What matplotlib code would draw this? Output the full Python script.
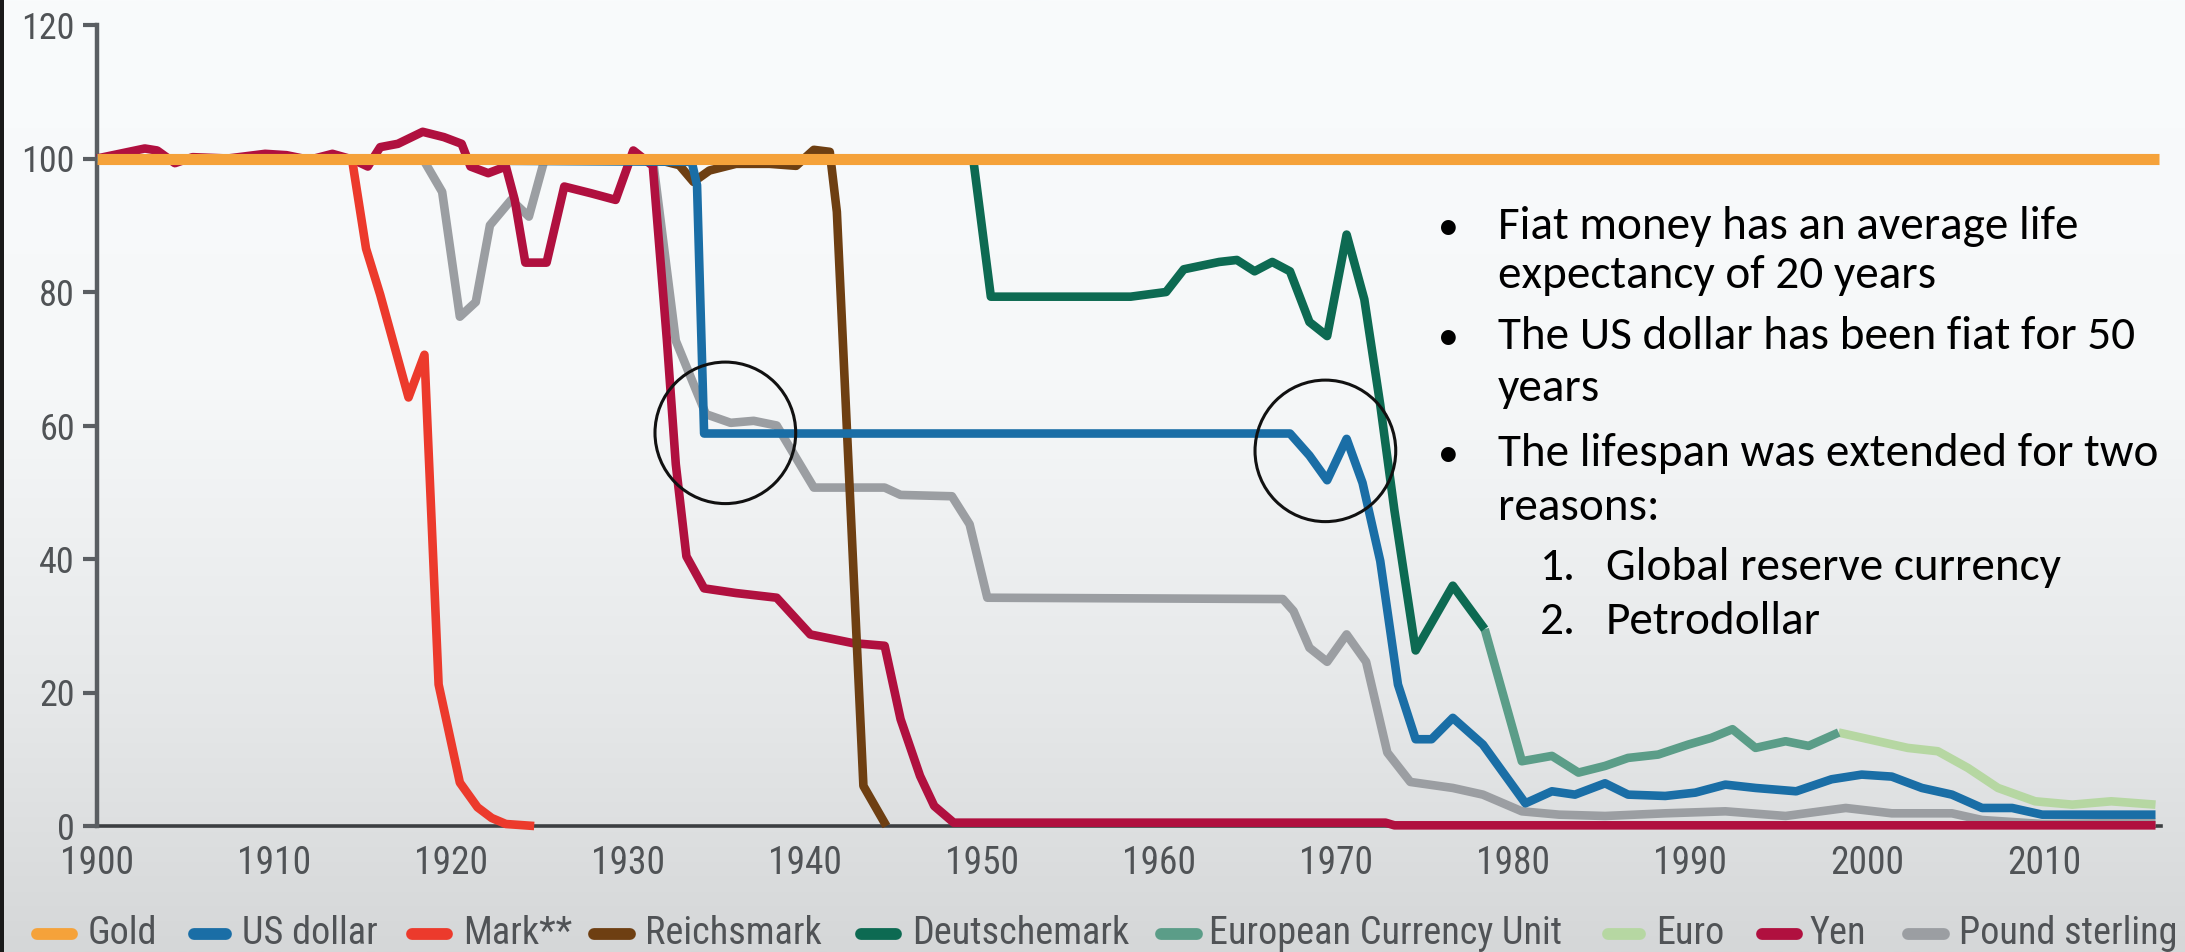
import numpy as np
import matplotlib
matplotlib.use("Agg")
import matplotlib.pyplot as plt
from matplotlib import font_manager
from matplotlib.patches import Ellipse, Rectangle
from matplotlib.lines import Line2D

# ---------------------------------------------------------------- data
gold_years = [1900, 2016.5]
gold_vals = [100, 100]

usd_years = [1900, 1933.6, 1933.9, 1934.3, 1967.4, 1968.5, 1969.5, 1970.6, 1971.5,
             1972.5, 1973.5, 1974.5, 1975.4, 1976.6, 1978.3, 1980.7, 1982.2, 1983.5,
             1985.2, 1986.5, 1988.6, 1990.3, 1992.0, 1993.7, 1996.0, 1998.0, 1999.7,
             2001.4, 2003.1, 2004.8, 2006.5, 2008.2, 2009.9, 2012.0, 2016.3]
usd_vals = [100, 99.5, 96, 58.8, 58.8, 55.5, 51.8, 58.0, 51.4,
            39.7, 21.2, 13.0, 13.0, 16.2, 12.2, 3.4, 5.2, 4.7,
            6.4, 4.7, 4.5, 5.0, 6.2, 5.7, 5.2, 7.0, 7.7,
            7.4, 5.7, 4.7, 2.7, 2.7, 1.7, 1.7, 1.7]

mark_years = [1900, 1914.4, 1915.2, 1916.0, 1917.6, 1918.5, 1919.3, 1920.5, 1921.5,
              1922.3, 1923.1, 1924.7]
mark_vals = [100, 100, 86.5, 79.6, 64.2, 70.6, 21.2, 6.5, 2.8, 1.2, 0.3, 0]

reichsmark_years = [1924, 1931.4, 1932.9, 1933.7, 1934.6, 1936.1, 1938.0, 1939.5,
                    1940.5, 1941.4, 1941.8, 1943.3, 1944.6]
reichsmark_vals = [100, 100, 99, 96.5, 98.2, 99.2, 99.2, 98.9, 101.3, 101, 92, 6.0, 0]

dm_years = [1949.5, 1950.5, 1958.4, 1960.4, 1961.4, 1963.4, 1964.4, 1965.4, 1966.4,
            1967.4, 1968.5, 1969.5, 1970.6, 1971.6, 1972.5, 1973.3, 1974.5, 1976.6,
            1978.4]
dm_vals = [100, 79.3, 79.3, 80, 83.4, 84.5, 84.8, 83.1, 84.5,
           83.1, 75.5, 73.4, 88.6, 78.9, 63.1, 47.3, 26.3, 36.0, 29.5]

ecu_years = [1978.4, 1980.5, 1982.2, 1983.7, 1985.2, 1986.5, 1988.2, 1989.9, 1991.2,
             1992.4, 1993.7, 1995.4, 1996.7, 1998.4]
ecu_vals = [29.5, 9.7, 10.5, 8.0, 9.0, 10.2, 10.7, 12.2, 13.2, 14.5, 11.7, 12.7, 12.0, 14.0]

euro_years = [1998.4, 2000.6, 2002.3, 2004.0, 2005.7, 2007.4, 2009.5, 2011.6, 2013.8, 2016.3]
euro_vals = [14.0, 12.7, 11.7, 11.2, 8.7, 5.7, 3.7, 3.2, 3.7, 3.2]

yen_years = [1900, 1902.7, 1903.4, 1904.4, 1905.4, 1907.4, 1909.5, 1910.7, 1912.0,
             1913.3, 1914.5, 1915.3, 1916.0, 1917.0, 1918.4, 1919.6, 1920.6, 1921.1,
             1922.1, 1923.1, 1923.6, 1924.2, 1925.4, 1926.4, 1927.9, 1929.3, 1930.3,
             1931.4, 1932.2, 1932.7, 1933.3, 1934.3, 1936.1, 1938.4, 1940.3, 1942.7,
             1944.5, 1945.4, 1946.5, 1947.3, 1948.4, 1972.8, 1973.3, 2016.3]
yen_vals = [100, 101.5, 101.2, 99.3, 100.2, 100, 100.7, 100.5, 99.8,
            100.7, 99.8, 98.8, 101.7, 102.2, 104, 103.2, 102.2, 98.8,
            97.8, 98.8, 93.8, 84.4, 84.4, 95.8, 94.8, 93.8, 101.2,
            98.9, 72.7, 54.2, 40.4, 35.6, 34.9, 34.2, 28.7, 27.4,
            27.0, 16.0, 7.5, 3.0, 0.5, 0.5, 0.1, 0.1]

gbp_years = [1900, 1918.4, 1919.5, 1920.5, 1921.4, 1922.2, 1923.4, 1924.4, 1925.3,
             1931.4, 1932.7, 1934.4, 1935.8, 1937.1, 1938.4, 1940.5, 1944.5, 1945.4,
             1948.3, 1949.3, 1950.3, 1967.0, 1967.6, 1968.5, 1969.5, 1970.6, 1971.7,
             1972.9, 1974.2, 1976.6, 1978.3, 1980.5, 1982.6, 1985.2, 1988.6, 1992.0,
             1995.4, 1998.8, 2001.4, 2004.8, 2006.5, 2009.9, 2016.3]
gbp_vals = [100, 100, 95.0, 76.3, 78.5, 90, 93.8, 91.3, 100,
            100, 72.7, 61.7, 60.4, 60.7, 60, 50.7, 50.7, 49.6,
            49.4, 45.2, 34.2, 34, 32.2, 26.7, 24.6, 28.7, 24.6,
            11.0, 6.6, 5.7, 4.7, 2.2, 1.7, 1.5, 1.9, 2.2,
            1.5, 2.7, 1.9, 1.9, 0.9, 0.3, 0.5]

series_labels = ["Gold", "US dollar", "Mark**", "Reichsmark", "Deutschemark",
                 "European Currency Unit", "Euro", "Yen", "Pound sterling"]
series_colors = ["#f5a23a", "#1a6ea6", "#ec3a2c", "#6e3f12", "#0d6a52",
                 "#5b9d88", "#b6d7a2", "#b0103f", "#9b9ea2"]

x_ticks = [1900, 1910, 1920, 1930, 1940, 1950, 1960, 1970, 1980, 1990, 2000, 2010]
y_ticks = [0, 20, 40, 60, 80, 100, 120]

notes = [
    ("bullet", "Fiat money has an average life"),
    ("cont", "expectancy of 20 years"),
    ("bullet", "The US dollar has been fiat for 50"),
    ("cont", "years"),
    ("bullet", "The lifespan was extended for two"),
    ("cont", "reasons:"),
    ("num1", "Global reserve currency"),
    ("num2", "Petrodollar"),
]

# ---------------------------------------------------------------- fonts
installed = {f.name for f in font_manager.fontManager.ttflist}


def pick(cands, fallback="DejaVu Sans"):
    for c in cands:
        if c in installed:
            return c
    return fallback


axis_font = pick(["Liberation Sans Narrow", "Roboto Condensed", "DejaVu Sans Condensed",
                  "Liberation Sans"])
note_font = pick(["Carlito", "Lato", "Open Sans"])

# ---------------------------------------------------------------- figure
W, H = 2185, 952
fig = plt.figure(figsize=(W / 100, H / 100), dpi=100)

# soft vertical background gradient
bg = fig.add_axes([0, 0, 1, 1], zorder=-10)
t = np.linspace(0, 1, 400)
stops_t = [0.0, 0.40, 0.75, 1.0]
r = np.interp(t, stops_t, [249, 246, 229, 213])
g = np.interp(t, stops_t, [251, 248, 231, 215])
b = np.interp(t, stops_t, [252, 249, 232, 216])
grad = np.stack([r, g, b], axis=1)[:, None, :] / 255.0
bg.imshow(grad, aspect="auto", extent=[0, 1, 0, 1])
bg.axis("off")
fig.add_artist(Rectangle((0, 0), 4 / W, 1, transform=fig.transFigure,
                         facecolor="#1a1a1a", edgecolor="none"))


def px(x):
    return x / W


def py(y):
    return 1 - y / H


x_left, x_right = 1900, 2016.6
ax_l = px(97)
ax_w = px((x_right - x_left) * 17.7)
ax_b = py(826)
ax_h = py(25) - py(826)
ax = fig.add_axes([ax_l, ax_b, ax_w, ax_h])
ax.set_facecolor("none")
ax.set_xlim(x_left, x_right)
ax.set_ylim(0, 120)

lw = 6.2
order = [8, 7, 6, 5, 4, 3, 2, 1, 0]
data = [(gold_years, gold_vals), (usd_years, usd_vals), (mark_years, mark_vals),
        (reichsmark_years, reichsmark_vals), (dm_years, dm_vals),
        (ecu_years, ecu_vals), (euro_years, euro_vals), (yen_years, yen_vals),
        (gbp_years, gbp_vals)]
for z, i in enumerate(order):
    xs, ys = data[i]
    ax.plot(xs, ys, color=series_colors[i], lw=8.0 if i == 0 else lw,
            solid_joinstyle="round", solid_capstyle="butt", zorder=3 + z,
            clip_on=False)

# highlight circles
for cx, cy in [(1935.5, 58.9), (1969.4, 56.2)]:
    ax.add_patch(Ellipse((cx, cy), 7.95, 21.2, fill=False, edgecolor="#111111",
                         lw=2.2, zorder=20))

for side in ["top", "right"]:
    ax.spines[side].set_visible(False)
ax.spines["left"].set_color("#5a5e62")
ax.spines["left"].set_linewidth(3.2)
ax.spines["bottom"].set_color("#3c3f42")
ax.spines["bottom"].set_linewidth(2.6)
ax.spines["bottom"].set_zorder(2)

ax.set_yticks(y_ticks)
ax.set_yticklabels([str(v) for v in y_ticks])
ax.set_xticks(x_ticks)
ax.set_xticklabels([str(v) for v in x_ticks])
ax.tick_params(axis="y", length=10, width=3.0, color="#5a5e62", pad=6,
               labelsize=26, labelcolor="#505356", direction="out")
ax.tick_params(axis="x", length=0, pad=14, labelsize=27, labelcolor="#505356")
for lab in ax.get_xticklabels() + ax.get_yticklabels():
    lab.set_fontfamily(axis_font)
# nudge the bottom y label up a touch so it clears the first year label
ax.get_yticklabels()[0].set_verticalalignment("center_baseline")

# legend row
leg_y = py(934)
mark_x = [(32, 77), (189, 231), (407, 452), (589, 635), (856, 901),
          (1156, 1202), (1603, 1645), (1757, 1802), (1903, 1949)]
text_x = [88, 242, 463, 645, 912, 1209, 1656, 1809, 1959]
for i, lab in enumerate(series_labels):
    x0, x1 = mark_x[i]
    fig.add_artist(Line2D([px(x0 + 5), px(x1 - 5)], [leg_y, leg_y],
                          transform=fig.transFigure, color=series_colors[i],
                          lw=8.5, solid_capstyle="round"))
    fig.text(px(text_x[i]), leg_y, lab, fontsize=27.5, color="#505356",
             family=axis_font, va="center", ha="left")

# notes
baselines = [239, 288, 349, 401, 466, 520, 580, 634]
for (kind, txt), yb in zip(notes, baselines):
    if kind == "bullet":
        fig.text(px(1438), py(yb), "\u2022", fontsize=30, family=note_font,
                 color="black", va="baseline")
        fig.text(px(1498), py(yb), txt, fontsize=34, family=note_font,
                 color="black", va="baseline")
    elif kind == "cont":
        fig.text(px(1498), py(yb), txt, fontsize=34, family=note_font,
                 color="black", va="baseline")
    else:
        num = "1." if kind == "num1" else "2."
        fig.text(px(1540), py(yb), num, fontsize=34, family=note_font,
                 color="black", va="baseline")
        fig.text(px(1606), py(yb), txt, fontsize=34, family=note_font,
                 color="black", va="baseline")

fig.savefig("out.png", dpi=100)
